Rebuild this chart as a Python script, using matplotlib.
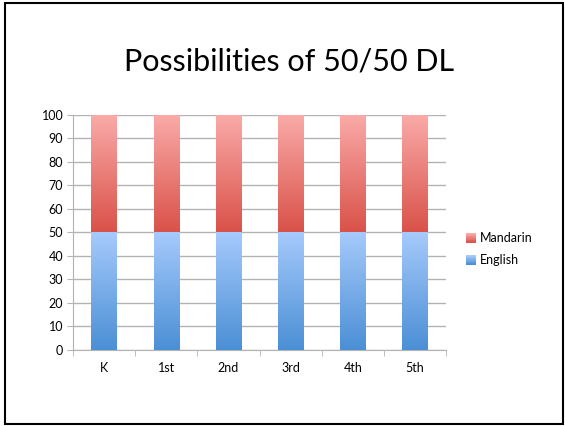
import numpy as np
import matplotlib
matplotlib.use('Agg')
from matplotlib import pyplot as plt
from matplotlib.colors import LinearSegmentedColormap
from matplotlib.patches import Rectangle
from matplotlib.legend_handler import HandlerBase

# chart data
grades = ['K', '1st', '2nd', '3rd', '4th', '5th']
english = [50, 50, 50, 50, 50, 50]
mandarin = [50, 50, 50, 50, 50, 50]

plt.rcParams['font.family'] = ['Lato', 'DejaVu Sans']

fig = plt.figure(figsize=(5.65, 4.26), dpi=100)
W, H = 565, 426

# slide frame
fig.patches.append(Rectangle((5 / W, 2 / H), 558 / W, 421 / H, transform=fig.transFigure,
                             fill=False, edgecolor='black', linewidth=1.5))

fig.text(289 / W, 1 - 61 / H, 'Possibilities of 50/50 DL', ha='center', va='center',
         fontsize=22, color='black')

ax = fig.add_axes([73 / W, 1 - 350 / H, 373 / W, 235.5 / H])

x = np.arange(len(grades))
width = 0.41

en_cmap = LinearSegmentedColormap.from_list('en', ['#4b8fd5', '#a6cafc'])
md_cmap = LinearSegmentedColormap.from_list('md', ['#d95249', '#faaba9'])
grad = np.linspace(0, 1, 256).reshape(-1, 1)

en_bars = ax.bar(x, english, width, color='#7fb0ea', label='English', zorder=2)
md_bars = ax.bar(x, mandarin, width, bottom=english, color='#ee8480', label='Mandarin', zorder=2)

# gradient fill clipped to each bar
for bars, cmap in [(en_bars, en_cmap), (md_bars, md_cmap)]:
    for b in bars:
        x0, y0 = b.get_x(), b.get_y()
        im = ax.imshow(grad, cmap=cmap, origin='lower', aspect='auto',
                       extent=[x0, x0 + b.get_width(), y0, y0 + b.get_height()], zorder=3)
        im.set_clip_path(b)

ax.set_xlim(-0.5, len(grades) - 0.5)
ax.set_ylim(0, 100)
ax.set_yticks(range(0, 101, 10))
ax.yaxis.grid(True, color='#b3b3b3', linewidth=1)
ax.set_axisbelow(True)

ax.set_xticks(x)
ax.set_xticklabels(grades)
ax.set_xticks(np.arange(-0.5, len(grades), 1), minor=True)
ax.tick_params(axis='x', which='major', length=0, pad=9, labelsize=9)
ax.tick_params(axis='x', which='minor', length=4, color='#b3b3b3', direction='out')
ax.tick_params(axis='y', length=4, color='#b3b3b3', labelsize=9, pad=3)

for s in ['top', 'right']:
    ax.spines[s].set_visible(False)
for s in ['left', 'bottom']:
    ax.spines[s].set_color('#b3b3b3')


class GradHandler(HandlerBase):
    def __init__(self, cmap):
        super().__init__()
        self.cmap = cmap

    def create_artists(self, legend, orig_handle, xdescent, ydescent, width, height, fontsize, trans):
        n = 12
        parts = []
        for i in range(n):
            r = Rectangle((-xdescent, -ydescent + height * i / n), width, height / n,
                          facecolor=self.cmap(i / (n - 1)), edgecolor='none', transform=trans)
            parts.append(r)
        return parts


md_handle = Rectangle((0, 0), 1, 1)
en_handle = Rectangle((0, 0), 1, 1)
fig.legend([md_handle, en_handle], ['Mandarin', 'English'], loc='upper left',
           bbox_to_anchor=(455 / W, 1 - 221 / H), frameon=False, fontsize=9,
           handlelength=0.8, handleheight=0.8, handletextpad=0.3, labelspacing=0.8,
           handler_map={md_handle: GradHandler(md_cmap), en_handle: GradHandler(en_cmap)})

fig.savefig('out.png', dpi=100)
